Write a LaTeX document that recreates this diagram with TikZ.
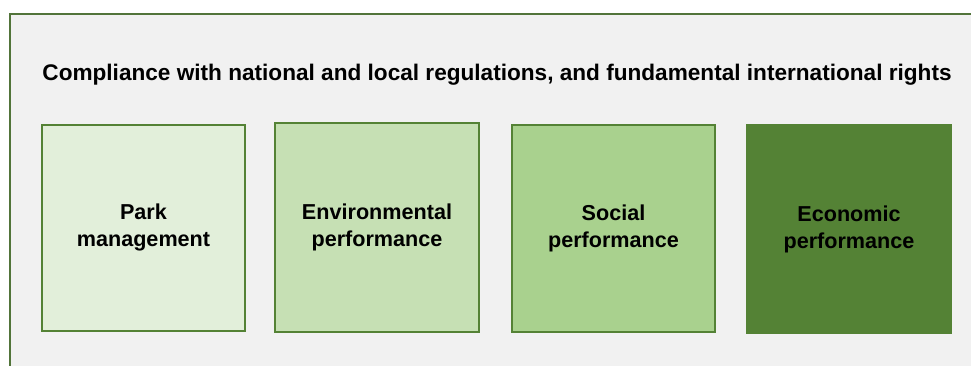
\documentclass[tikz,border=0pt]{standalone}
\usepackage{fontspec}
\setmainfont{Liberation Sans}
\definecolor{framegreen}{HTML}{52743A}
\definecolor{edgegreen}{HTML}{548235}
\definecolor{panelgray}{HTML}{F1F1F1}
\definecolor{fillA}{HTML}{E2EFDA}
\definecolor{fillB}{HTML}{C6E0B4}
\definecolor{fillC}{HTML}{A9D18E}
\definecolor{fillD}{HTML}{548235}
\begin{document}
\begin{tikzpicture}[x=1pt,y=-1pt,
    pillar/.style = {draw=edgegreen, line width=2pt, minimum width=203pt,
      minimum height=206pt, align=center, inner sep=0pt,
      font=\bfseries\fontsize{21.6}{27}\selectfont}]
    \useasboundingbox (0,0) rectangle (971,365);
    \clip (0,0) rectangle (971,365);

    % Rahmen
    \draw[framegreen, line width=2pt, fill=panelgray] (10,14) rectangle (990,390);

    % Titel
    \node[font=\bfseries\fontsize{22.6}{27}\selectfont] (title) at (497,75)
      {Compliance with national and local regulations, and fundamental international rights};

    % Saeulen
    \node[pillar, fill=fillA] (park) at (143.5,227.5) {Park\\management};
    \node[pillar, fill=fillB, minimum width=204pt, minimum height=209pt] (env) at (377,227.5) {Environmental\\performance};
    \node[pillar, fill=fillC, minimum height=207pt] (social) at (613.5,228.5) {Social\\performance};
    \node[pillar, fill=fillD, draw=none, minimum width=206pt, minimum height=210pt] (econ) at (849,229) {Economic\\performance};
\end{tikzpicture}
\end{document}
